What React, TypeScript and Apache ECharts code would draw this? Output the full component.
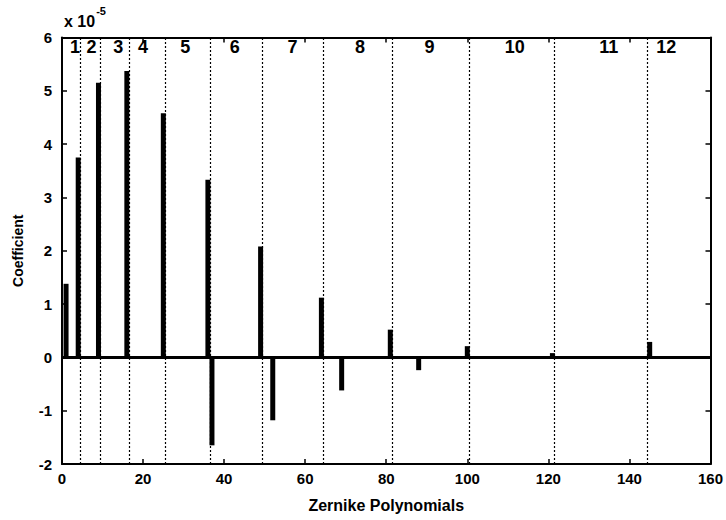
import React, { useEffect, useRef } from "react";
import * as echarts from "echarts";

const barIndex = [1, 4, 9, 16, 25, 36, 37, 49, 52, 64, 69, 81, 88, 100, 121, 145];
const barCoeff = [1.38, 3.75, 5.15, 5.37, 4.58, 3.33, -1.65, 2.08, -1.18, 1.12, -0.62, 0.52, -0.24, 0.21, 0.08, 0.29];
const orderBoundaries = [4.5, 9.5, 16.5, 25.5, 36.5, 49.5, 64.5, 81.5, 100.5, 121.5, 144.5];
const orderLabels = ["1", "2", "3", "4", "5", "6", "7", "8", "9", "10", "11", "12"];
const orderLabelX = [3.2, 7.3, 13.9, 20.0, 30.4, 42.6, 56.9, 73.5, 90.7, 111.7, 134.9, 149.1];
const orderLabelY = 5.82;

const FONT = "'Liberation Sans', Arial, sans-serif";

export default function App() {
  const ref = useRef<HTMLDivElement>(null);
  useEffect(() => {
    if (!ref.current) return;
    const chart = echarts.init(ref.current, null, { renderer: "svg" });
    const axisCommon = {
      axisLine: { show: true, onZero: false, lineStyle: { color: "#000", width: 2 } },
      axisTick: { show: true, inside: true, length: 5, lineStyle: { color: "#000", width: 1.5 } },
      splitLine: { show: false },
    };
    chart.setOption({
      animation: false,
      backgroundColor: "#fff",
      grid: { left: 62, right: 15, top: 37.5, bottom: 56, containLabel: false },
      graphic: [
        {
          type: "text",
          left: 64,
          top: 5,
          style: {
            text: "{a|x 10}{b|-5}",
            rich: {
              a: { fontFamily: FONT, fontWeight: "bold", fontSize: 16, fill: "#000", padding: [8, 0, 0, 0] },
              b: { fontFamily: FONT, fontWeight: "bold", fontSize: 11, fill: "#000", verticalAlign: "top", padding: [0, 0, 8, 1] },
            },
          },
        },
      ],
      xAxis: [
        {
          type: "value",
          min: 0,
          max: 160,
          interval: 20,
          position: "bottom",
          ...axisCommon,
          axisLabel: { color: "#000", fontFamily: FONT, fontWeight: "bold", fontSize: 15, margin: 7 },
          name: "Zernike Polynomials",
          nameLocation: "middle",
          nameGap: 33,
          nameTextStyle: { color: "#000", fontFamily: FONT, fontWeight: "bold", fontSize: 16 },
        },
        {
          type: "value",
          min: 0,
          max: 160,
          interval: 20,
          position: "top",
          ...axisCommon,
          axisLabel: { show: false },
        },
      ],
      yAxis: [
        {
          type: "value",
          min: -2,
          max: 6,
          interval: 1,
          position: "left",
          ...axisCommon,
          axisLabel: { color: "#000", fontFamily: FONT, fontWeight: "bold", fontSize: 15, margin: 10 },
          name: "Coefficient",
          nameLocation: "middle",
          nameGap: 37,
          nameTextStyle: { color: "#000", fontFamily: FONT, fontWeight: "bold", fontSize: 14 },
        },
        {
          type: "value",
          min: -2,
          max: 6,
          interval: 1,
          position: "right",
          ...axisCommon,
          axisLabel: { show: false },
        },
      ],
      series: [
        {
          type: "bar",
          xAxisIndex: 0,
          yAxisIndex: 0,
          barWidth: 5,
          itemStyle: { color: "#000" },
          data: barIndex.map((x, i) => [x, barCoeff[i]]),
          markLine: {
            silent: true,
            symbol: "none",
            label: { show: false },
            data: [
              ...orderBoundaries.map((b) => ({
                xAxis: b,
                lineStyle: { type: [2, 2], color: "#000", width: 1.2 },
              })),
              { yAxis: 0, lineStyle: { type: "solid", color: "#000", width: 3 } },
            ],
          },
          z: 3,
        },
        {
          type: "scatter",
          xAxisIndex: 0,
          yAxisIndex: 0,
          symbolSize: 0,
          itemStyle: { opacity: 1, color: "#000" },
          data: orderLabelX.map((x, i) => ({ value: [x, orderLabelY], name: orderLabels[i] })),
          label: {
            show: true,
            position: "inside",
            opacity: 1,
            formatter: (p: any) => p.name,
            color: "#000",
            fontFamily: FONT,
            fontWeight: "bold",
            fontSize: 18,
          },
          z: 5,
        },
      ],
    });
    return () => chart.dispose();
  }, []);
  return (
    <div
      ref={ref}
      style={{ position: "fixed", left: 0, top: 0, width: 726, height: 520, background: "#fff" }}
    />
  );
}
